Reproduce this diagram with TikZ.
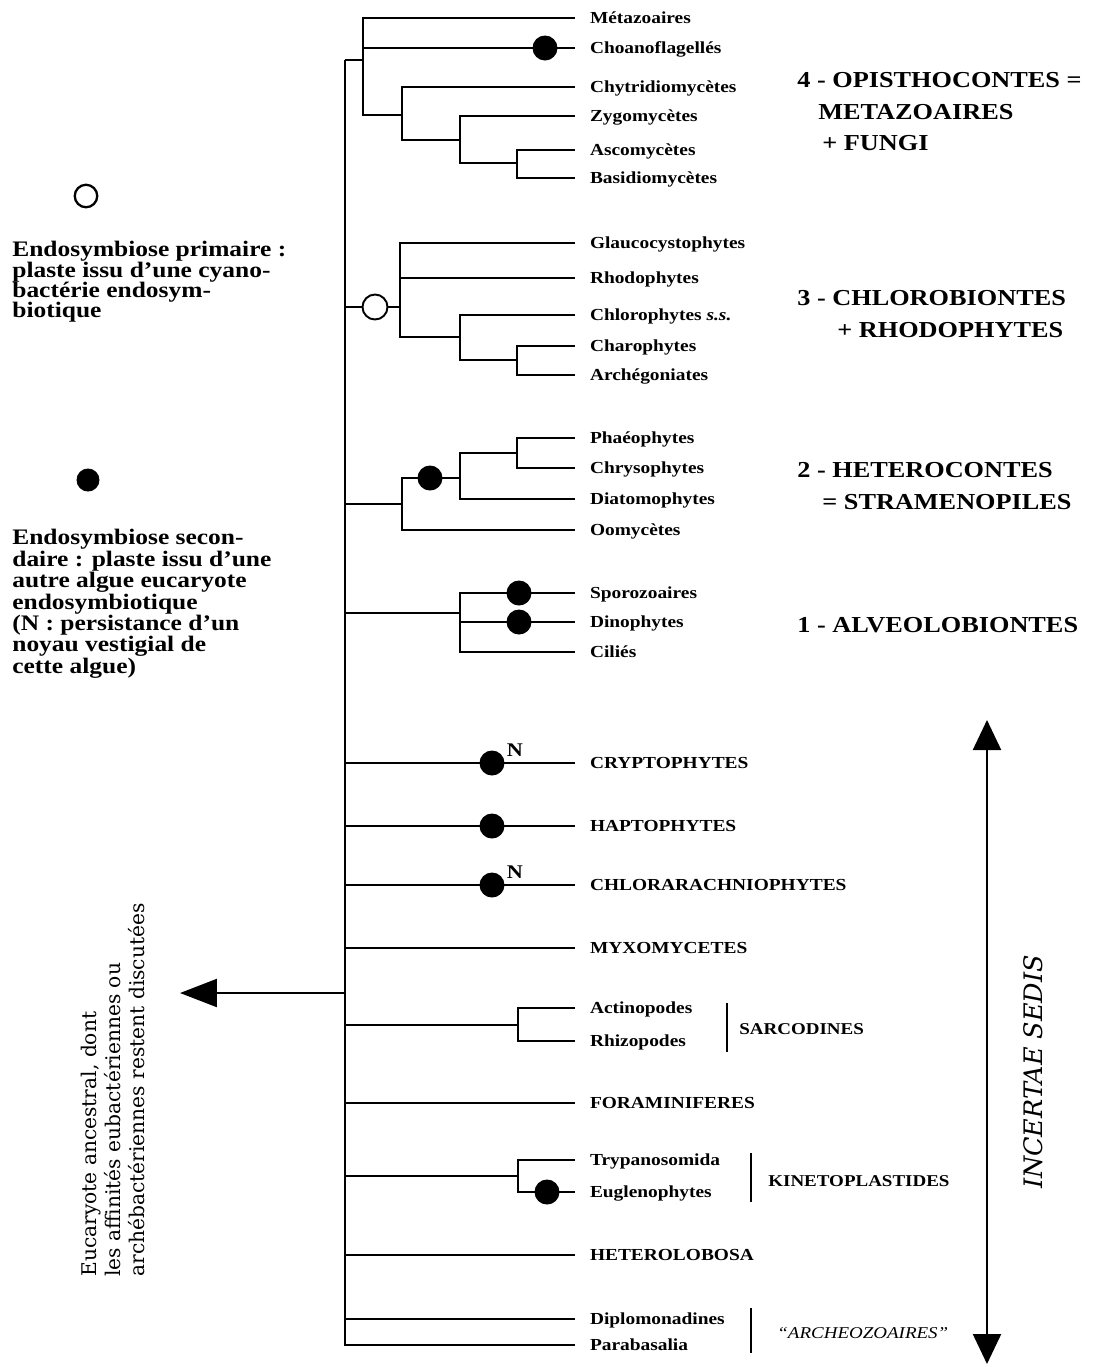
\documentclass[tikz,border=0pt]{standalone}
\usepackage{fontspec}
\setmainfont{Liberation Serif}[FakeStretch=1.15]
\newfontfamily\slabfont{DejaVu Serif}
\usetikzlibrary{arrows.meta, positioning}

\tikzset{
  branch/.style={line width=1.3pt},
  taxon/.style={anchor=west, inner sep=0pt, outer xsep=0.3cm, text height=1.6ex, text depth=0.35ex,
    font=\fontsize{9.6}{11}\selectfont\bfseries},
  grouptag/.style={anchor=west, inner sep=0pt, text height=1.6ex, text depth=0.35ex,
    font=\fontsize{9.4}{11}\selectfont\bfseries},
  cladetitle/.style={anchor=west, inner sep=0pt, font=\fontsize{13}{14}\selectfont\bfseries},
  secdot/.style={circle, fill=black, inner sep=0pt, minimum size=0.5cm},
  primdot/.style={circle, draw, line width=1.1pt, fill=white, inner sep=0pt, minimum size=0.5cm},
  legend/.style={anchor=north west, align=left, inner sep=0pt},
  nmark/.style={inner sep=0pt, font=\fontsize{11}{12}\selectfont\bfseries},
}

\begin{document}
\begin{tikzpicture}[x=0.02cm, y=-0.02cm, >=Stealth]
  \useasboundingbox (0,0) rectangle (1097,1367);

  % trunk
  \coordinate (trtop) at (345,60);

  % 4 - opisthocontes
  \node[taxon] (metaz) at (575,18) {Métazoaires};
  \node[taxon] (choan) at (575,48) {Choanoflagellés};
  \node[taxon] (chytr) at (575,87) {Chytridiomycètes};
  \node[taxon] (zygo) at (575,116) {Zygomycètes};
  \node[taxon] (ascom) at (575,150) {Ascomycètes};
  \node[taxon] (basid) at (575,178) {Basidiomycètes};
  \coordinate (opi) at (363,60);
  \coordinate (fun) at (402,115);
  \coordinate (fun2) at (460,140);
  \coordinate (fun3) at (517,163);
  \draw[branch] (trtop) -- (opi);
  \draw[branch] (metaz.west) -| (opi) |- (fun);
  \draw[branch] (opi |- choan.west) -- (choan.west);
  \draw[branch] (chytr.west) -| (fun) |- (fun2);
  \draw[branch] (zygo.west) -| (fun2) |- (fun3);
  \draw[branch] (ascom.west) -| (fun3) |- (basid.west);
  \node[secdot] (dchoan) at (545,48) {};

  % 3 - chlorobiontes + rhodophytes
  \node[taxon] (glauc) at (575,243) {Glaucocystophytes};
  \node[taxon] (rhodo) at (575,278) {Rhodophytes};
  \node[taxon] (chlor) at (575,315) {Chlorophytes \textit{s.s.}};
  \node[taxon] (charo) at (575,346) {Charophytes};
  \node[taxon] (arche) at (575,375) {Archégoniates};
  \coordinate (chl0) at (345,307);
  \node[primdot] (dprim) at (375,307) {};
  \coordinate (chl) at (400,307);
  \coordinate (chl2) at (460,337);
  \coordinate (chl3) at (517,360);
  \draw[branch] (chl0) -- (dprim.west);
  \draw[branch] (dprim.east) -- (chl);
  \draw[branch] (glauc.west) -| (chl) |- (chl2);
  \draw[branch] (chl |- rhodo.west) -- (rhodo.west);
  \draw[branch] (chlor.west) -| (chl2) |- (chl3);
  \draw[branch] (charo.west) -| (chl3) |- (arche.west);

  % 2 - heterocontes
  \node[taxon] (phaeo) at (575,438) {Phaéophytes};
  \node[taxon] (chrys) at (575,468) {Chrysophytes};
  \node[taxon] (diato) at (575,499) {Diatomophytes};
  \node[taxon] (oomy) at (575,530) {Oomycètes};
  \coordinate (het0) at (345,504);
  \coordinate (het) at (402,504);
  \coordinate (het2) at (460,478);
  \coordinate (het3) at (517,453);
  \draw[branch] (het0) -- (het);
  \draw[branch] (het2) -| (het) |- (oomy.west);
  \draw[branch] (het3) -| (het2) |- (diato.west);
  \draw[branch] (phaeo.west) -| (het3) |- (chrys.west);
  \node[secdot] (dhet) at (430,478) {};

  % 1 - alveolobiontes
  \node[taxon] (sporo) at (575,593) {Sporozoaires};
  \node[taxon] (dino) at (575,622) {Dinophytes};
  \node[taxon] (cilie) at (575,652) {Ciliés};
  \coordinate (alv0) at (345,613);
  \coordinate (alv) at (460,613);
  \draw[branch] (alv0) -- (alv);
  \draw[branch] (sporo.west) -| (alv) |- (cilie.west);
  \draw[branch] (alv |- dino.west) -- (dino.west);
  \node[secdot] (dsporo) at (519,593) {};
  \node[secdot] (ddino) at (519,622) {};

  % incertae sedis
  \node[taxon] (crypt) at (575,763) {CRYPTOPHYTES};
  \node[taxon] (hapto) at (575,826) {HAPTOPHYTES};
  \node[taxon] (chlar) at (575,885) {CHLORARACHNIOPHYTES};
  \node[taxon] (myxo) at (575,948) {MYXOMYCETES};
  \node[taxon] (actin) at (575,1008) {Actinopodes};
  \node[taxon] (rhizo) at (575,1041) {Rhizopodes};
  \node[taxon] (fora) at (575,1103) {FORAMINIFERES};
  \node[taxon] (trypa) at (575,1160) {Trypanosomida};
  \node[taxon] (eugle) at (575,1192) {Euglenophytes};
  \node[taxon] (hetlo) at (575,1255) {HETEROLOBOSA};
  \node[taxon] (diplo) at (575,1319) {Diplomonadines};
  \node[taxon] (parab) at (575,1345) {Parabasalia};

  \draw[branch] (trtop) |- (parab.west);
  \draw[branch] (trtop |- crypt.west) -- (crypt.west);
  \draw[branch] (trtop |- hapto.west) -- (hapto.west);
  \draw[branch] (trtop |- chlar.west) -- (chlar.west);
  \draw[branch] (trtop |- myxo.west) -- (myxo.west);
  \draw[branch] (trtop |- fora.west) -- (fora.west);
  \draw[branch] (trtop |- hetlo.west) -- (hetlo.west);
  \draw[branch] (trtop |- diplo.west) -- (diplo.west);
  \node[secdot] (dcrypt) at (492,763) {};
  \node[secdot] (dhapto) at (492,826) {};
  \node[secdot] (dchlar) at (492,885) {};
  \node[nmark] (ncrypt) at (515,750) {N};
  \node[nmark] (nchlar) at (515,872) {N};

  \coordinate (sar) at (518,1025);
  \draw[branch] (trtop |- sar) -- (sar);
  \draw[branch] (actin.west) -| (sar) |- (rhizo.west);
  \coordinate (kin) at (518,1176);
  \draw[branch] (trtop |- kin) -- (kin);
  \draw[branch] (trypa.west) -| (kin) |- (eugle.west);
  \node[secdot] (deugle) at (547,1192) {};

  % groupes
  \coordinate (sarbt) at (727,1003);
  \coordinate (sarbb) at (727,1052);
  \draw[branch] (sarbt) -- (sarbb);
  \node[grouptag] (sarco) at (739,1029) {SARCODINES};
  \coordinate (kinbt) at (751,1153);
  \coordinate (kinbb) at (751,1202);
  \draw[branch] (kinbt) -- (kinbb);
  \node[grouptag] (kineto) at (768,1181) {KINETOPLASTIDES};
  \coordinate (arcbt) at (751,1308);
  \coordinate (arcbb) at (751,1353);
  \draw[branch] (arcbt) -- (arcbb);
  \node[grouptag, font=\fontsize{9.4}{11}\selectfont\itshape] (archeo) at (777,1333) {“ARCHEOZOAIRES”};

  % titres des clades
  \node[cladetitle] (t4a) at (797,80) {4 - OPISTHOCONTES =};
  \node[cladetitle] (t4b) at (818,112) {METAZOAIRES};
  \node[cladetitle] (t4c) at (822,143) {+ FUNGI};
  \node[cladetitle] (t3a) at (797,298) {3 - CHLOROBIONTES};
  \node[cladetitle] (t3b) at (837,330) {+ RHODOPHYTES};
  \node[cladetitle] (t2a) at (797,470) {2 - HETEROCONTES};
  \node[cladetitle] (t2b) at (822,502) {= STRAMENOPILES};
  \node[cladetitle] (t1a) at (797,625) {1 - ALVEOLOBIONTES};

  % incertae sedis
  \coordinate (isup) at (987,720);
  \coordinate (isdown) at (987,1364);
  \draw[branch, {Triangle[length=0.6cm, width=0.56cm]}-{Triangle[length=0.6cm, width=0.56cm]}] (isup) -- (isdown);
  \node[rotate=90, inner sep=0pt, font=\slabfont\itshape\fontsize{14.5}{16}\selectfont] (incert) at (1033,1072) {INCERTAE SEDIS};

  % ancetre
  \coordinate (ancestor) at (180,993);
  \draw[branch, -{Triangle[length=0.74cm, width=0.56cm]}] (trtop |- ancestor) -- (ancestor);
  \node[rotate=90, anchor=west, align=left, inner sep=0pt,
    font=\slabfont\fontsize{11.5}{13.6}\selectfont] (anctext) at (113,1277)
    {Eucaryote ancestral, dont\\les affinités eubactériennes ou\\archébactériennes restent discutées};

  % legende
  \node[primdot, line width=1.3pt, minimum size=0.45cm] (lprim) at (86,196) {};
  \node[legend, font=\fontsize{12.6}{11.6}\selectfont\bfseries] (lprimtext) at (12,241)
    {Endosymbiose primaire :\\plaste issu d’une cyano-\\bactérie endosym-\\biotique};
  \node[secdot, minimum size=0.46cm] (lsec) at (88,480) {};
  \node[legend, font=\fontsize{12.6}{12.2}\selectfont\bfseries] (lsectext) at (12,529)
    {Endosymbiose secon-\\daire : plaste issu d’une\\autre algue eucaryote\\endosymbiotique\\(N : persistance d’un\\noyau vestigial de\\cette algue)};
\end{tikzpicture}
\end{document}
